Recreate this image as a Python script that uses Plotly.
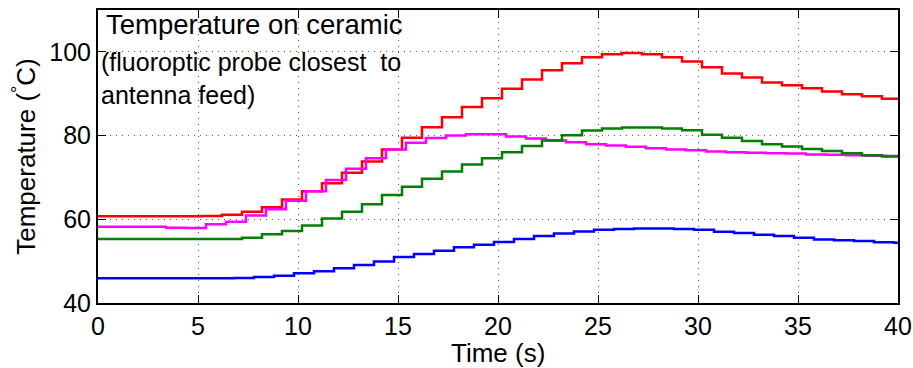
import plotly.graph_objects as go

# Step levels (one level per ~1 s sample interval)
red_levels = [60.7, 60.7, 60.7, 60.7, 60.7, 60.8, 61.1, 61.8, 62.9, 64.7,
              66.7, 68.6, 71.1, 73.8, 76.7, 79.5, 82.0, 84.4, 86.8, 88.9,
              91.2, 93.4, 95.6, 97.3, 98.7, 99.4, 99.7, 99.4, 98.7, 97.7,
              96.3, 94.8, 93.9, 92.7, 92.0, 91.3, 90.5, 89.9, 89.4, 88.8]
magenta_levels = [58.2, 58.2, 58.2, 58.0, 57.9, 58.8, 59.4, 60.9, 62.4, 64.4,
                  66.7, 69.4, 72.1, 74.6, 76.7, 78.3, 79.4, 80.0, 80.3, 80.3,
                  79.8, 79.3, 78.8, 78.4, 77.9, 77.6, 77.3, 77.0, 76.7, 76.5,
                  76.2, 76.0, 75.9, 75.8, 75.7, 75.5, 75.4, 75.3, 75.2, 75.1]
green_levels = [55.3, 55.3, 55.3, 55.3, 55.3, 55.3, 55.3, 55.6, 56.4, 57.2,
                58.5, 60.2, 61.8, 63.6, 65.8, 67.8, 69.7, 71.4, 73.1, 74.6,
                76.0, 77.5, 78.8, 80.1, 81.2, 81.7, 81.9, 81.9, 81.7, 81.3,
                80.2, 79.5, 78.7, 77.9, 77.4, 76.8, 76.3, 75.8, 75.3, 75.0]
blue_levels = [45.9, 45.9, 45.9, 45.9, 45.9, 45.9, 46.0, 46.2, 46.5, 47.1,
               47.6, 48.3, 49.1, 49.9, 51.0, 51.7, 52.5, 53.3, 53.9, 54.6,
               55.3, 56.0, 56.6, 57.1, 57.5, 57.7, 57.8, 57.8, 57.7, 57.5,
               57.0, 56.7, 56.3, 56.0, 55.6, 55.2, 55.0, 54.8, 54.5, 54.4]

# Time (s) at which each probe's sample updates (offset within each second)
red_lag = 0.2
magenta_lag = 0.4
green_lag = 0.2
blue_lag = 0.8
t_end = 40

x_ticks = [0, 5, 10, 15, 20, 25, 30, 35, 40]
y_ticks = [40, 60, 80, 100]


def step_xy(levels, lag):
    xs = [0] + [k + lag for k in range(1, len(levels))] + [t_end]
    ys = list(levels) + [levels[-1]]
    return xs, ys


series = [
    (red_levels, red_lag, "#FF0000"),
    (magenta_levels, magenta_lag, "#FF00FF"),
    (green_levels, green_lag, "#008000"),
    (blue_levels, blue_lag, "#0000FF"),
]

fig = go.Figure()
for lv, lag, col in series:
    xs, ys = step_xy(lv, lag)
    fig.add_trace(go.Scatter(x=xs, y=ys, mode="lines",
                             line=dict(color=col, width=2.5, shape="hv"),
                             showlegend=False, hoverinfo="skip"))

FONT = "Liberation Sans, Arial, Helvetica, sans-serif"
axis_common = dict(
    showline=True, linecolor="black", linewidth=2, mirror="ticks",
    ticks="inside", ticklen=8, tickwidth=1, tickcolor="black",
    showgrid=True, gridcolor="#555555", gridwidth=1, griddash="1px,5px",
    zeroline=False, automargin=False,
    tickfont=dict(family=FONT, size=25, color="black"),
)

fig.update_xaxes(range=[0, 40], tickvals=x_ticks, **axis_common)
fig.update_yaxes(range=[40, 110], tickvals=y_ticks,
                 title=dict(text="Temperature (<sup>°</sup>C)",
                            font=dict(family=FONT, size=26, color="black"), standoff=6),
                 **axis_common)

W, H = 913, 368
L, R, T, B = 98, 15, 10, 65
pw, ph = W - L - R, H - T - B


def px(xp):
    return (xp - L) / pw


def py(yp):
    return (H - B - yp) / ph


annos = [
    ("Temperature on ceramic", 27.5, 104, 24, "left"),
    ("(fluoroptic probe closest\u00a0 to", 25, 99, 62, "left"),
    ("antenna feed)", 25, 99, 95, "left"),
    ("Time (s)", 26, 498, 353, "center"),
]
for txt, size, xx, yy, xa in annos:
    fig.add_annotation(text=txt, xref="paper", yref="paper", x=px(xx), y=py(yy),
                       xanchor=xa, yanchor="middle", showarrow=False,
                       font=dict(family=FONT, size=size, color="black"))

fig.update_layout(
    width=W, height=H,
    margin=dict(l=L, r=R, t=T, b=B),
    paper_bgcolor="white", plot_bgcolor="white",
)

fig.write_html("out.html")
